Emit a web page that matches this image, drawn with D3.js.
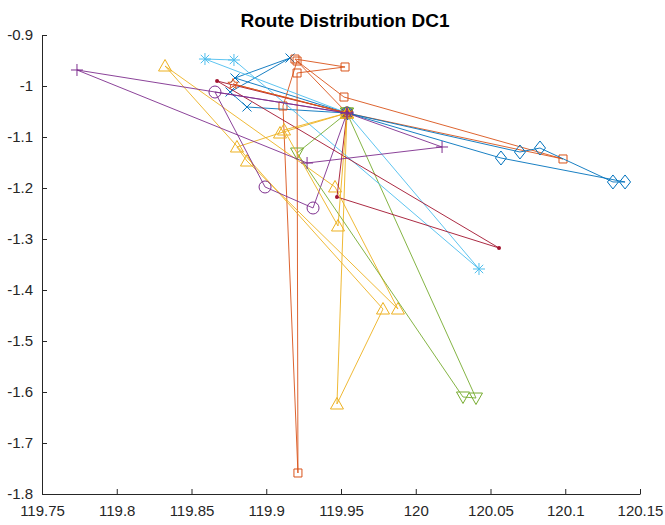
<!DOCTYPE html>
<html>
<head>
<meta charset="utf-8">
<script src="https://cdn.jsdelivr.net/npm/d3@7"></script>
<style>
  body { margin: 0; background: #fff; }
  svg { display: block; font-family: "Liberation Sans", Arial, sans-serif; }
</style>
</head>
<body>
<div id="chart"></div>
<script>
// depot (distribution centre DC1)
const depot = [119.954, -1.053];

// customer coordinates per route, visiting order (lon / lat)
const r1Lon = [119.8871, 119.8758, 119.9159, 119.8791];
const r1Lat = [-1.0412, -1.0118, -0.9451, -0.9843];

const r2Lon = [119.9192, 119.9527, 119.9206, 119.9212, 119.9112, 119.9206, 119.9520, 120.0985];
const r2Lat = [-0.9471, -0.9627, -0.9745, -1.7588, -1.0392, -0.9510, -1.0216, -1.1431];

const r3Lon = [119.9092, 119.8804, 119.8871, 119.9881, 119.9460, 119.8323, 119.9781, 119.9473];
const r3Lat = [-1.0922, -1.1196, -1.1471, -1.4373, -1.1980, -0.9608, -1.4373, -1.6235];

const r4Lon = [119.8657, 119.8992, 119.9313];
const r4Lat = [-1.0118, -1.1980, -1.2392];

const r5Lon = [119.9206, 120.0316, 120.0403];
const r5Lat = [-1.1314, -1.6098, -1.6118];

const r6Lon = [119.8590, 119.8784, 120.0423];
const r6Lat = [-0.9471, -0.9490, -1.3588];

const r7Lon = [119.9473, 120.0557, 119.8671];
const r7Lat = [-1.2176, -1.3176, -0.9902];

const r8Lon = [120.0570, 120.1400, 120.1319, 120.0831, 120.0697];
const r8Lat = [-1.1412, -1.1882, -1.1882, -1.1216, -1.1294];

const r9Lon = [119.8778];
const r9Lat = [-0.9961];

const r10Lon = [119.9119, 119.9480];
const r10Lat = [-1.0863, -1.2745];

const r11Lon = [119.7734, 119.9273, 120.0176];
const r11Lat = [-0.9686, -1.1510, -1.1196];

const xTicks = [119.75, 119.8, 119.85, 119.9, 119.95, 120, 120.05, 120.1, 120.15];
const yTicks = [-0.9, -1, -1.1, -1.2, -1.3, -1.4, -1.5, -1.6, -1.7, -1.8];

const routes = [
  {lon: r1Lon, lat: r1Lat, color: "#0072BD", marker: "x"},
  {lon: r2Lon, lat: r2Lat, color: "#D95319", marker: "s"},
  {lon: r3Lon, lat: r3Lat, color: "#EDB120", marker: "^"},
  {lon: r4Lon, lat: r4Lat, color: "#7E2F8E", marker: "o"},
  {lon: r5Lon, lat: r5Lat, color: "#77AC30", marker: "v"},
  {lon: r6Lon, lat: r6Lat, color: "#4DBEEE", marker: "*"},
  {lon: r7Lon, lat: r7Lat, color: "#A2142F", marker: "."},
  {lon: r8Lon, lat: r8Lat, color: "#0072BD", marker: "d"},
  {lon: r9Lon, lat: r9Lat, color: "#D95319", marker: "p"},
  {lon: r10Lon, lat: r10Lat, color: "#EDB120", marker: "^"},
  {lon: r11Lon, lat: r11Lat, color: "#7E2F8E", marker: "+"}
];

const W = 665, H = 525;
const margin = {top: 35, right: 25, bottom: 31, left: 42};
const width = W - margin.left - margin.right;
const height = H - margin.top - margin.bottom;

const svg = d3.select("#chart").append("svg")
    .attr("width", W)
    .attr("height", H);

const g = svg.append("g")
    .attr("transform", `translate(${margin.left},${margin.top})`);

const x = d3.scaleLinear().domain([119.75, 120.15]).range([0, width]);
const y = d3.scaleLinear().domain([-1.8, -0.9]).range([height, 0]);

// marker shapes, centred on 0,0
function markerPath(m) {
  const p = d3.path();
  if (m === "x") {
    const r = 4.5;
    p.moveTo(-r, -r); p.lineTo(r, r); p.moveTo(-r, r); p.lineTo(r, -r);
  } else if (m === "+") {
    const r = 6;
    p.moveTo(-r, 0); p.lineTo(r, 0); p.moveTo(0, -r); p.lineTo(0, r);
  } else if (m === "*") {
    const r = 6, d = 4.2;
    p.moveTo(-r, 0); p.lineTo(r, 0); p.moveTo(0, -r); p.lineTo(0, r);
    p.moveTo(-d, -d); p.lineTo(d, d); p.moveTo(-d, d); p.lineTo(d, -d);
  } else if (m === "s") {
    p.rect(-4, -4, 8, 8);
  } else if (m === "d") {
    p.moveTo(0, -7); p.lineTo(5.5, 0); p.lineTo(0, 7); p.lineTo(-5.5, 0); p.closePath();
  } else if (m === "^") {
    p.moveTo(0, -6.5); p.lineTo(6.5, 5); p.lineTo(-6.5, 5); p.closePath();
  } else if (m === "v") {
    p.moveTo(0, 6.5); p.lineTo(6.5, -5); p.lineTo(-6.5, -5); p.closePath();
  } else if (m === "o") {
    p.arc(0, 0, 6, 0, 2 * Math.PI);
  } else if (m === "p") {
    for (let i = 0; i < 10; i++) {
      const a = -Math.PI / 2 + i * Math.PI / 5;
      const rr = i % 2 ? 2.3 : 5.5;
      if (i === 0) p.moveTo(rr * Math.cos(a), rr * Math.sin(a));
      else p.lineTo(rr * Math.cos(a), rr * Math.sin(a));
    }
    p.closePath();
  }
  return p.toString();
}

// axes (box off, ticks inside), plain hyphen minus like MATLAB
const fmt = d => String(d);

const xAxis = g.append("g")
    .attr("transform", `translate(0,${height})`)
    .call(d3.axisBottom(x).tickValues(xTicks).tickFormat(fmt).tickSizeInner(-5).tickSizeOuter(0).tickPadding(11));

const yAxis = g.append("g")
    .call(d3.axisLeft(y).tickValues(yTicks).tickFormat(fmt).tickSizeInner(-5).tickSizeOuter(0).tickPadding(9));

[xAxis, yAxis].forEach(a => {
  a.select(".domain").attr("stroke", "#262626");
  a.selectAll(".tick line").attr("stroke", "#262626");
  a.selectAll(".tick text")
      .attr("fill", "#262626")
      .style("font-size", "15px")
      .style("font-family", "'Liberation Sans', Arial, sans-serif");
});

// routes: depot -> customers -> depot
const line = d3.line().x(d => x(d[0])).y(d => y(d[1]));

routes.forEach(r => {
  const pts = [depot].concat(r.lon.map((v, i) => [v, r.lat[i]])).concat([depot]);
  g.append("path")
      .attr("d", line(pts))
      .attr("fill", "none")
      .attr("stroke", r.color)
      .attr("stroke-width", 1)
      .attr("opacity", 0.9);

  if (r.marker === ".") {
    g.selectAll(null)
      .data(pts)
      .join("circle")
        .attr("cx", d => x(d[0]))
        .attr("cy", d => y(d[1]))
        .attr("r", 2)
        .attr("fill", r.color);
  } else {
    g.selectAll(null)
      .data(pts)
      .join("path")
        .attr("transform", d => `translate(${x(d[0])},${y(d[1])})`)
        .attr("d", markerPath(r.marker))
        .attr("fill", "none")
        .attr("stroke", r.color)
        .attr("stroke-width", 1);
  }
});

// title
svg.append("text")
    .attr("x", 345)
    .attr("y", 27)
    .attr("text-anchor", "middle")
    .style("font-size", "19px")
    .style("font-weight", "bold")
    .attr("fill", "#000")
    .text("Route Distribution DC1");
</script>
</body>
</html>
